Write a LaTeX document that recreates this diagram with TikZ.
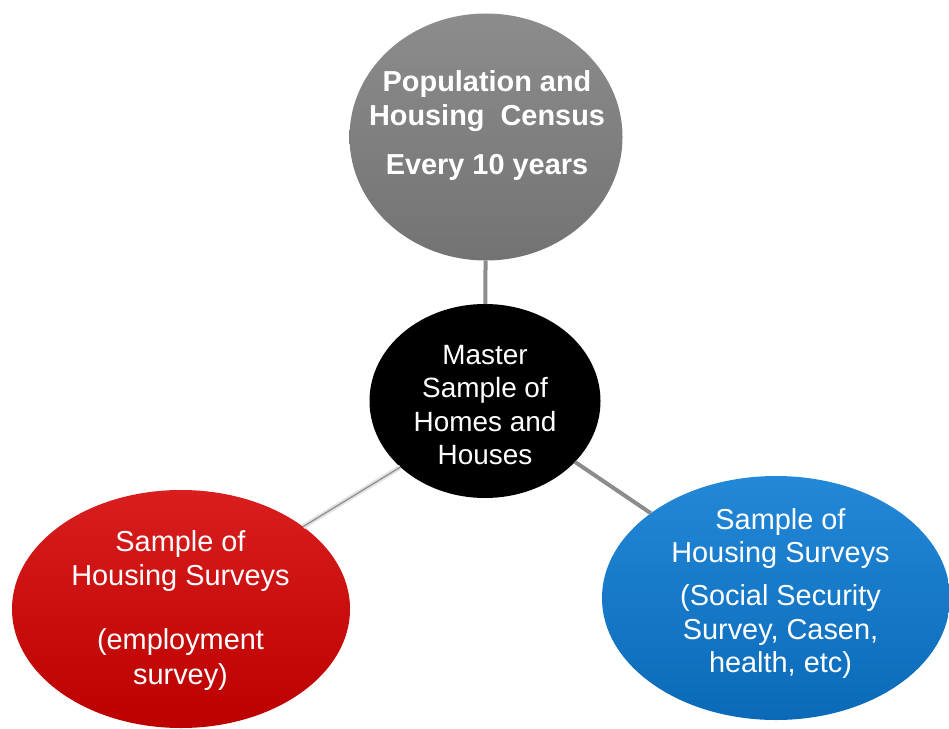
\documentclass[tikz,border=0pt]{standalone}
\usepackage{fontspec}
\setmainfont{Liberation Sans}
\usetikzlibrary{shapes.geometric}
\definecolor{graytop}{HTML}{8C8C8C}
\definecolor{graybot}{HTML}{737373}
\definecolor{redtop}{HTML}{D81E1E}
\definecolor{redbot}{HTML}{BC0000}
\definecolor{bluetop}{HTML}{2388D8}
\definecolor{bluebot}{HTML}{0A6AB8}
\definecolor{linkgray}{HTML}{8C8C8C}
\definecolor{linkpale}{HTML}{E2E2E2}
\begin{document}
\begin{tikzpicture}[x=1bp,y=-1bp,
  blob/.style={ellipse, inner sep=0pt, outer sep=0pt},
  txt/.style={align=center, text=white, inner sep=0pt, outer sep=0pt},
  link/.style={line width=4bp, draw=linkgray},
  linkpaler/.style={line width=1.2bp, draw=linkgray, preaction={draw=linkpale, line width=5bp}}
]
\useasboundingbox (0,0) rectangle (949,729);
% shapes
\node[blob, minimum width=273bp, minimum height=247bp, top color=graytop, bottom color=graybot] (census) at (486,137) {};
\node[blob, minimum width=231bp, minimum height=194bp, fill=black] (master) at (485,401) {};
\node[blob, minimum width=338bp, minimum height=238bp, top color=redtop, bottom color=redbot] (employ) at (181,609) {};
\node[blob, minimum width=348bp, minimum height=244bp, top color=bluetop, bottom color=bluebot] (social) at (776,598) {};
% connectors
\draw[link] (census) -- (master);
\draw[link] (master) -- (social);
\draw[linkpaler] (master.218.8) -- (employ.34.2);
% texts
\node[txt, font=\bfseries\fontsize{29}{33.5}\selectfont] (censustxt) at (487,126.7)
  {\strut Population and\\Housing\ \ Census\\[16.5bp]Every 10 years\strut};
\node[txt, font=\fontsize{28}{33.6}\selectfont] (mastertxt) at (485,407.9)
  {\strut Master\\Sample of\\Homes and\\Houses\strut};
\node[txt, font=\fontsize{29}{35}\selectfont] (employtxt) at (180.5,610.6)
  {\strut Sample of\\Housing Surveys\\[28.3bp](employment\\survey)\strut};
\node[txt, font=\fontsize{29}{33.5}\selectfont] (socialtxt) at (780.5,594.2)
  {\strut Sample of\\Housing Surveys\\[10bp](Social Security\\Survey, Casen,\\health, etc)\strut};
\end{tikzpicture}
\end{document}
